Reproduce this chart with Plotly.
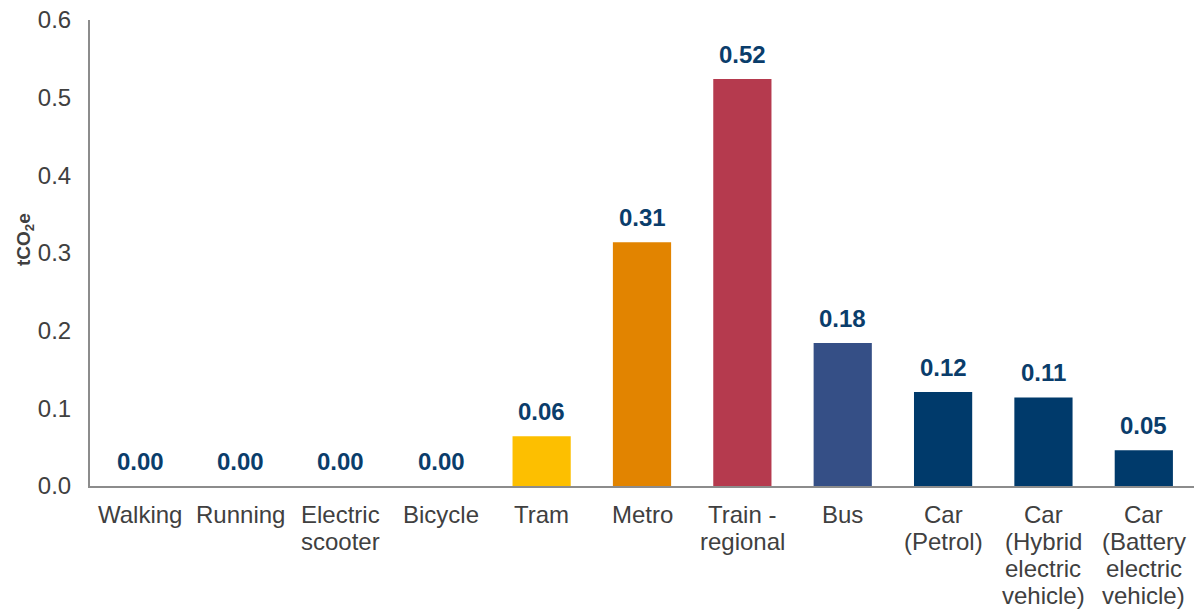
import plotly.graph_objects as go

# Annual emissions per transport mode (tCO2e)
categories = [
    "Walking", "Running", "Electric\nscooter", "Bicycle", "Tram", "Metro",
    "Train -\nregional", "Bus", "Car\n(Petrol)", "Car\n(Hybrid\nelectric\nvehicle)",
    "Car\n(Battery\nelectric\nvehicle)",
]
values = [0.0, 0.0, 0.0, 0.0, 0.064, 0.314, 0.524, 0.184, 0.121, 0.114, 0.046]
bar_colors = [
    "#003865", "#003865", "#003865", "#003865", "#FDBF00", "#E28400",
    "#B53A4E", "#354F86", "#003A6B", "#003A6B", "#003A6B",
]
y_ticks = [0.0, 0.1, 0.2, 0.3, 0.4, 0.5, 0.6]
y_title = "<b>tCO<sub>2</sub>e</b>"

FONT = "Liberation Sans, Arial, sans-serif"

fig = go.Figure()
fig.add_trace(go.Bar(
    x=categories,
    y=values,
    marker=dict(color=bar_colors, line=dict(width=0)),
    width=0.58,
    hoverinfo="skip",
))

# Value labels above each bar
for cat, val in zip(categories, values):
    fig.add_annotation(
        x=cat, y=val, text=f"<b>{val:.2f}</b>",
        showarrow=False, yanchor="bottom", yshift=9,
        font=dict(family=FONT, size=24, color="#0A3D6B"),
    )

# Category labels, one annotation per line for tight line spacing
for cat in categories:
    for i, line in enumerate(cat.split("\n")):
        fig.add_annotation(
            x=cat, y=0, text=line,
            showarrow=False, yanchor="middle", yshift=-28 - 27.3 * i,
            font=dict(family=FONT, size=24, color="#404040"),
        )

# Vertical axis title
fig.add_annotation(
    xref="paper", yref="paper", x=0, y=0.5, xanchor="center", yanchor="middle",
    xshift=-65, yshift=13,
    text=y_title, textangle=-90, showarrow=False,
    font=dict(family=FONT, size=19, color="#404040"),
)

fig.update_layout(
    width=1194, height=610,
    margin=dict(l=90, r=0, t=20, b=124),
    paper_bgcolor="white", plot_bgcolor="white",
    showlegend=False,
    font=dict(family=FONT, size=24, color="#404040"),
    xaxis=dict(
        showline=True, linecolor="#8C8C8C", linewidth=2,
        showgrid=False, ticks="", showticklabels=False,
    ),
    yaxis=dict(
        range=[0, 0.6], tickvals=y_ticks, tickformat=".1f",
        showline=True, linecolor="#8C8C8C", linewidth=2,
        showgrid=False, zeroline=False, ticks="", ticklabelstandoff=12,
        tickfont=dict(family=FONT, size=24, color="#404040"),
    ),
)

fig.write_html("out.html")
